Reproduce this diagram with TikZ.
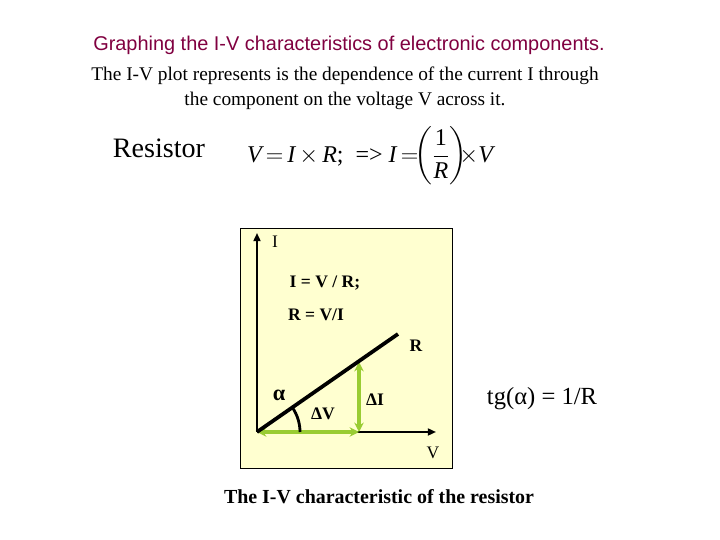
\documentclass[tikz,border=0pt]{standalone}
\usepackage{amsmath}
\usepackage{fontspec}
\setmainfont{Liberation Serif}
\newfontfamily\arialfont{Liberation Sans}
\usepackage{xcolor}
\usetikzlibrary{arrows.meta}
\definecolor{titlered}{RGB}{128,0,64}
\definecolor{paleyellow}{RGB}{255,255,208}
\definecolor{leafgreen}{RGB}{153,204,51}

\begin{document}
\begin{tikzpicture}[
  x=0.03cm, y=0.03cm,
  axis/.style={line width=1.6pt, -{Triangle[length=7pt,width=6pt]}},
  deltaarrow/.style={leafgreen, line width=2.6pt, {Stealth[length=8pt,width=8pt]}-{Stealth[length=8pt,width=8pt]}},
  plotlabel/.style={font=\fontsize{15}{17}\selectfont\bfseries, inner sep=0pt}
]
\useasboundingbox (0,0) rectangle (720,540);

% headings
\node[font=\arialfont\fontsize{17}{19}\selectfont, text=titlered, inner sep=0pt] (title) at (349,495)
  {Graphing the I-V characteristics of electronic components.};
\node[font=\fontsize{16.5}{21.5}\selectfont, align=center, inner sep=0pt] (intro) at (345,452)
  {The I-V plot represents is the dependence of the current I through\\the component on the voltage V across it.};
\node[font=\fontsize{24}{28}\selectfont, inner sep=0pt] (resistor) at (159,392) {Resistor};
\node[font=\fontsize{20.5}{24}\selectfont, inner sep=0pt] (ohm) at (370,384)
  {$\textit{V}\,{=}\,\textit{I}\,{\times}\,\textit{R}$\text{;} \ \text{=>} $\textit{I}\,{=}\!\biggl(\dfrac{\text{1}}{\textit{R}}\biggr)\!\!{\times}\textit{V}$};

% plot panel
\draw[fill=paleyellow, line width=0.8pt] (240,72) rectangle (452,312);
\coordinate (origin) at (257,108);
\coordinate (itop) at (257,307);
\coordinate (vend) at (436,108);
\coordinate (rend) at (398,206);
\coordinate (dvend) at (359,108);
\coordinate (ditop) at (359,178);

\draw[axis] (origin) -- (itop);
\draw[axis] (origin) -- (vend);
\draw[deltaarrow] (origin) -- (dvend);
\draw[deltaarrow] (dvend) -- (ditop);
\draw[line width=3.2pt] (origin) -- (rend);
\draw[line width=2.4pt] (300,108) arc[start angle=0, end angle=34.8, radius=43];

\node[font=\fontsize{15}{17}\selectfont, inner sep=0pt] (ilabel) at (275,298) {I};
\node[plotlabel] (law1) at (325,257) {I = V / R;};
\node[plotlabel] (law2) at (316,225) {R = V/I};
\node[plotlabel] (rlabel) at (416,194) {R};
\node[font=\fontsize{19}{21}\selectfont\bfseries, inner sep=0pt] (alpha) at (279,145) {α};
\node[plotlabel] (dvlabel) at (323,126) {ΔV};
\node[plotlabel] (dilabel) at (375,140) {ΔI};
\node[font=\fontsize{15}{17}\selectfont, inner sep=0pt] (vlabel) at (433,87) {V};

\node[font=\fontsize{21}{24}\selectfont, inner sep=0pt] (slope) at (542,141) {tg(α) = 1/R};
\node[font=\fontsize{17}{20}\selectfont\bfseries, inner sep=0pt] (caption) at (379,43) {The I-V characteristic of the resistor};
\end{tikzpicture}
\end{document}
